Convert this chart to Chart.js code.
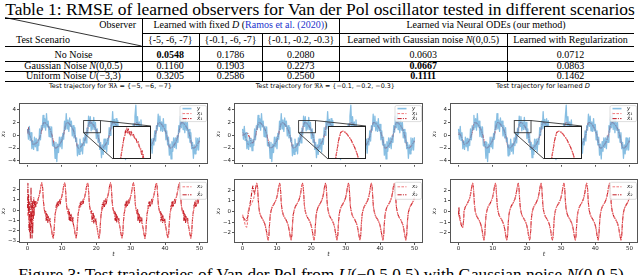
<!DOCTYPE html>
<html><head><meta charset="utf-8">
<script src="https://cdn.jsdelivr.net/npm/chart.js@4.4.0/dist/chart.umd.min.js"></script>
<style>
html,body{margin:0;padding:0;width:640px;height:275px;overflow:hidden;background:#fff;}
body{position:relative;}
.t{position:absolute;white-space:nowrap;line-height:1;color:#000;}
.serif{font-family:"Liberation Serif","Times New Roman",serif;}
.sans{font-family:"DejaVu Sans",sans-serif;}
.c{transform:translate(-50%,-50%);}
.r{transform:translate(-100%,-50%);}
.l{transform:translate(0,-50%);}
.hl{position:absolute;height:0;border-top:0.8px solid #000;}
.vl{position:absolute;width:0;border-left:0.8px solid #000;}
canvas{position:absolute;}
</style></head><body>
<script>
// ---------------- DATA ----------------
// table
const tableTitle = "Table 1: RMSE of learned observers for Van der Pol oscillator tested in different scenarios";
const scenarios = ["No Noise", "Gaussian Noise <i>N</i>(0,0.5)", "Uniform Noise <i>U</i>(\u22123,3)"];
const colHeads = ["{-5, -6, -7}", "{-0.1, -6, -7}", "{-0.1, -0.2, -0.3}", "Learned with Gaussian noise <i>N</i>(0,0.5)", "Learned with Regularization"];
const rmseFixedA = [0.0548, 0.1160, 0.3205];
const rmseFixedB = [0.1786, 0.1903, 0.2586];
const rmseFixedC = [0.2080, 0.2273, 0.2560];
const rmseGauss  = [0.0603, 0.0667, 0.1111];
const rmseReg    = [0.0712, 0.0863, 0.1462];

// trajectory knots (time)
const tKnots = [0,0.25,0.5,0.75,1.0,1.2,1.4,1.5,
1.6,1.85,2.1,2.6,3.1,3.35,3.6,3.85,4.13,4.35,4.6,4.75,
4.9,5.15,5.4,5.9,6.4,6.65,6.9,7.15,7.43,7.65,7.9,8.05,
8.24,8.49,8.74,9.24,9.74,9.99,10.24,10.49,10.77,10.99,11.24,11.39,
11.58,11.83,12.08,12.58,13.08,13.33,13.58,13.83,14.11,14.33,14.58,14.73,
14.92,15.17,15.42,15.92,16.42,16.67,16.92,17.17,17.45,17.67,17.92,18.07,
18.26,18.51,18.76,19.26,19.76,20.01,20.26,20.51,20.79,21.01,21.26,21.41,
21.6,21.85,22.1,22.6,23.1,23.35,23.6,23.85,24.13,24.35,24.6,24.75,
24.94,25.19,25.44,25.94,26.44,26.69,26.94,27.19,27.47,27.69,27.94,28.09,
28.28,28.53,28.78,29.28,29.78,30.03,30.28,30.53,30.81,31.03,31.28,31.43,
31.62,31.87,32.12,32.62,33.12,33.37,33.62,33.87,34.15,34.37,34.62,34.77,
34.96,35.21,35.46,35.96,36.46,36.71,36.96,37.21,37.49,37.71,37.96,38.11,
38.3,38.55,38.8,39.3,39.8,40.05,40.3,40.55,40.83,41.05,41.3,41.45,
41.64,41.89,42.14,42.64,43.14,43.39,43.64,43.89,44.17,44.39,44.64,44.79,
44.98,45.23,45.48,45.98,46.48,46.73,46.98,47.23,47.51,47.73,47.98,48.13,
48.32,48.57,48.82,49.32,49.82,50];
// true state x1
const x1True = [0.45,0.33,0.12,-0.17,-0.52,-0.82,-1.13,-1.3,
-1.45,-1.42,-1.36,-1.18,-0.85,-0.6,-0.25,0.2,0.87,1.48,1.91,1.98,
2,1.94,1.83,1.51,1.05,0.75,0.36,-0.15,-0.87,-1.48,-1.91,-1.98,
-2,-1.94,-1.83,-1.51,-1.05,-0.75,-0.36,0.15,0.87,1.48,1.91,1.98,
2,1.94,1.83,1.51,1.05,0.75,0.36,-0.15,-0.87,-1.48,-1.91,-1.98,
-2,-1.94,-1.83,-1.51,-1.05,-0.75,-0.36,0.15,0.87,1.48,1.91,1.98,
2,1.94,1.83,1.51,1.05,0.75,0.36,-0.15,-0.87,-1.48,-1.91,-1.98,
-2,-1.94,-1.83,-1.51,-1.05,-0.75,-0.36,0.15,0.87,1.48,1.91,1.98,
2,1.94,1.83,1.51,1.05,0.75,0.36,-0.15,-0.87,-1.48,-1.91,-1.98,
-2,-1.94,-1.83,-1.51,-1.05,-0.75,-0.36,0.15,0.87,1.48,1.91,1.98,
2,1.94,1.83,1.51,1.05,0.75,0.36,-0.15,-0.87,-1.48,-1.91,-1.98,
-2,-1.94,-1.83,-1.51,-1.05,-0.75,-0.36,0.15,0.87,1.48,1.91,1.98,
2,1.94,1.83,1.51,1.05,0.75,0.36,-0.15,-0.87,-1.48,-1.91,-1.98,
-2,-1.94,-1.83,-1.51,-1.05,-0.75,-0.36,0.15,0.87,1.48,1.91,1.98,
2,1.94,1.83,1.51,1.05,0.75,0.36,-0.15,-0.87,-1.48,-1.91,-1.98,
-2,-1.94,-1.83,-1.51,-1.05,-0.84];
// true state x2
const x2True = [-0.3,-0.62,-0.95,-1.25,-1.42,-1.48,-1.15,-0.7,
0,0.31,0.5,0.76,1.1,1.38,1.78,2.31,2.65,2.28,0.9,0.35,
0,-0.31,-0.5,-0.76,-1.1,-1.38,-1.78,-2.31,-2.68,-2.28,-0.9,-0.35,
0,0.31,0.5,0.76,1.1,1.38,1.78,2.31,2.65,2.28,0.9,0.35,
0,-0.31,-0.5,-0.76,-1.1,-1.38,-1.78,-2.31,-2.68,-2.28,-0.9,-0.35,
0,0.31,0.5,0.76,1.1,1.38,1.78,2.31,2.65,2.28,0.9,0.35,
0,-0.31,-0.5,-0.76,-1.1,-1.38,-1.78,-2.31,-2.68,-2.28,-0.9,-0.35,
0,0.31,0.5,0.76,1.1,1.38,1.78,2.31,2.65,2.28,0.9,0.35,
0,-0.31,-0.5,-0.76,-1.1,-1.38,-1.78,-2.31,-2.68,-2.28,-0.9,-0.35,
0,0.31,0.5,0.76,1.1,1.38,1.78,2.31,2.65,2.28,0.9,0.35,
0,-0.31,-0.5,-0.76,-1.1,-1.38,-1.78,-2.31,-2.68,-2.28,-0.9,-0.35,
0,0.31,0.5,0.76,1.1,1.38,1.78,2.31,2.65,2.28,0.9,0.35,
0,-0.31,-0.5,-0.76,-1.1,-1.38,-1.78,-2.31,-2.68,-2.28,-0.9,-0.35,
0,0.31,0.5,0.76,1.1,1.38,1.78,2.31,2.65,2.28,0.9,0.35,
0,-0.31,-0.5,-0.76,-1.1,-1.38,-1.78,-2.31,-2.68,-2.28,-0.9,-0.35,
0,0.31,0.5,0.76,1.1,1.3];
// noisy measurement y, sampled every 0.25 from t = 0
const yStart = 0, yStep = 0.25;
const yMeas = [1.0,-0.6,1.4,-0.8,0.4,-2.1,-0.9,-2.2,-0.3,-1.8,
-0.5,-2.4,-0.7,-1.6,1.0,-0.7,1.5,0.9,3.1,1.2,
2.6,0.8,3.4,1.3,2.2,-0.2,1.4,-0.3,1.3,-1.6,
-1.7,-1.0,-3.6,-1.1,-4.1,-1.4,-2.7,-0.3,-1.8,-0.3,
-2.1,0.3,-0.6,2.2,0.9,3.4,1.0,2.4,0.6,2.7,
1.4,2.2,-0.1,1.5,-0.4,1.2,-1.0,-0.4,-3.2,-1.5,
-3.0,-0.6,-2.5,-1.3,-2.9,-0.4,-1.6,0.5,-1.2,1.1,
0.1,3.0,1.4,2.9,0.7,2.1,0.9,2.8,0.9,2.0,
-0.5,1.0,-1.1,0.3,-2.2,-1.1,-3.5,-1.5,-3.0,-0.6,
-2.2,-0.6,-2.6,-0.5,-1.4,1.2,0.0,2.2,1.0,3.7,
1.1,2.5,0.5,2.6,1.2,2.3,-0.2,1.3,-0.6,0.7,
-2.2,-1.2,-3.1,-1.1,-3.8,-1.3,-2.6,-0.4,-1.8,-0.3,
-2.0,0.3,-0.8,1.8,0.8,3.0,4.7,1.1,2.9,0.7,
2.1,0.6,2.4,0.4,1.4,-1.0,0.1,-2.0,-1.0,-3.4,
-1.6,-3.0,-0.5,-2.3,-0.6,-2.8,-0.5,-1.5,0.7,-0.9,
1.5,0.8,3.3,1.4,3.0,0.7,2.1,0.6,2.6,0.7,
1.7,-0.7,0.7,-1.5,-0.3,-3.1,-1.4,-3.7,-1.0,-2.5,
-0.4,-1.9,-0.4,-2.1,-0.1,-1.1,1.5,0.5,3.0,1.2,
3.6,0.9,2.5,0.4,2.4,0.8,2.0,-0.4,0.9,-1.1,
0.4,-2.1,-1.1,-3.6,-1.5,-2.9,-0.4,-2.3,-0.5,-2.3,
-0.3];

// observer estimates, left panel (Re lambda = {-5,-6,-7})
const xh1LeftEarlyT = [0,0.15,0.3,0.5,0.75];
const xh1LeftEarlyV = [1.0,0.2,1.2,0.15,-0.2];
const xh1LeftZoomT = [17.0,17.2,17.35,17.5,17.6,17.7,17.8,17.9,18.0,18.1,18.2,18.3,18.4,18.5,18.6,18.7,18.8,18.95,19.1,19.25,19.4,19.55,19.7,19.85,20.0,20.05,20.15,20.2,20.3];
const xh1LeftZoomV = [-0.2,0.3,0.6,1.05,1.3,1.6,1.72,2.0,1.9,2.12,1.95,2.08,1.88,2.02,1.8,1.93,1.74,1.8,1.55,1.62,1.33,1.38,1.1,1.05,0.62,0.9,0.45,0.68,0.2];
const xh2LeftT = [0,0.1,0.2,0.3,0.4,0.5,0.6,0.7,0.8,0.9,1.0,1.1,1.2,1.3,1.4,1.5,1.6,1.7,1.8,1.9,2.0,2.1,2.25,2.4,2.6,2.8,3.1,3.35,3.6,3.85,4.13,4.35,4.6,4.75,
4.9,5.15,5.3,5.4,5.5,5.65,5.75,5.9,6.0,6.15,6.4,6.5,6.65,6.9,7.15,7.43,7.65,7.9,8.05,
8.24,8.35,8.49,8.6,8.74,8.9,9.0,9.24,9.4,9.5,9.74,9.99,10.24,10.49,10.77,10.99,11.24,11.39,
11.58,11.83,11.98,12.08,12.18,12.33,12.43,12.58,12.68,12.83,13.08,13.18,13.33,13.58,13.83,14.11,14.33,14.58,14.73,
14.92,15.03,15.17,15.28,15.42,15.58,15.68,15.92,16.08,16.18,16.42,16.67,16.92,17.17,17.45,17.67,17.92,18.07,
18.26,18.51,18.66,18.76,18.86,19.01,19.11,19.26,19.36,19.51,19.76,19.86,20.01,20.26,20.51,20.79,21.01,21.26,21.41,
21.6,21.71,21.85,21.96,22.1,22.26,22.36,22.6,22.76,22.86,23.1,23.35,23.6,23.85,24.13,24.35,24.6,24.75,
24.94,25.19,25.34,25.44,25.54,25.69,25.79,25.94,26.04,26.19,26.44,26.54,26.69,26.94,27.19,27.47,27.69,27.94,28.09,
28.28,28.39,28.53,28.64,28.78,28.94,29.04,29.28,29.44,29.54,29.78,30.03,30.28,30.53,30.81,31.03,31.28,31.43,
31.62,31.87,32.02,32.12,32.22,32.37,32.47,32.62,32.72,32.87,33.12,33.22,33.37,33.62,33.87,34.15,34.37,34.62,34.77,
34.96,35.07,35.21,35.32,35.46,35.62,35.72,35.96,36.12,36.22,36.46,36.71,36.96,37.21,37.49,37.71,37.96,38.11,
38.3,38.55,38.7,38.8,38.9,39.05,39.15,39.3,39.4,39.55,39.8,39.9,40.05,40.3,40.55,40.83,41.05,41.3,41.45,
41.64,41.75,41.89,42.0,42.14,42.3,42.4,42.64,42.8,42.9,43.14,43.39,43.64,43.89,44.17,44.39,44.64,44.79,
44.98,45.23,45.38,45.48,45.58,45.73,45.83,45.98,46.08,46.23,46.48,46.58,46.73,46.98,47.23,47.51,47.73,47.98,48.13,
48.32,48.43,48.57,48.68,48.82,48.98,49.08,49.32,49.48,49.58,49.82,50];
const xh2LeftV = [0.2,2.6,-0.5,1.5,-1.9,0.8,-2.1,-0.4,-2.8,-0.6,2.2,-1.6,-0.2,-2.7,0.9,-2.2,0.3,-0.8,1.2,-0.5,0.9,0.2,0.9,0.3,0.8,0.6,1.1,1.38,1.78,2.31,2.65,2.28,0.9,0.35,
0,-0.31,-0.1,-1.0,-0.3,-0.9,-0.45,-1.2,-0.6,-1.0,-1.1,-0.8,-1.38,-1.78,-2.31,-2.72,-2.28,-0.9,-0.35,
0,0.5,0.2,0.8,0.35,0.9,0.4,0.76,1.05,0.6,1.1,1.38,1.78,2.31,2.65,2.28,0.9,0.35,
0,-0.35,0.1,-0.9,-0.2,-1.0,-0.5,-1.1,-0.4,-0.9,-1.2,-0.7,-1.38,-1.78,-2.31,-2.7,-2.28,-0.9,-0.35,
0,0.4,0.25,0.7,0.3,0.85,0.45,0.76,1.0,0.65,1.1,1.38,1.78,2.31,2.66,2.28,0.9,0.35,
0,-0.3,-0.05,-1.1,-0.35,-0.8,-0.3,-1.25,-0.55,-1.05,-1.1,-0.75,-1.38,-1.78,-2.31,-2.73,-2.28,-0.9,-0.35,
0,0.55,0.2,0.75,0.4,0.95,0.35,0.76,1.1,0.55,1.1,1.38,1.78,2.31,2.66,2.28,0.9,0.35,
0,-0.3,-0.1,-0.95,-0.25,-1.0,-0.4,-1.15,-0.5,-0.95,-1.1,-0.8,-1.38,-1.78,-2.31,-2.7,-2.28,-0.9,-0.35,
0,0.6,0.15,0.85,0.3,0.9,0.45,0.76,1.1,0.6,1.1,1.38,1.78,2.31,2.65,2.28,0.9,0.35,
0,-0.35,0.05,-1.0,-0.3,-0.85,-0.35,-1.2,-0.6,-1.0,-1.1,-0.75,-1.38,-1.78,-2.31,-2.74,-2.28,-0.9,-0.35,
0,0.45,0.2,0.8,0.35,0.9,0.4,0.76,1.05,0.6,1.1,1.38,1.78,2.31,2.65,2.28,0.9,0.35,
0,-0.3,-0.1,-1.05,-0.3,-0.9,-0.45,-1.2,-0.5,-1.0,-1.1,-0.8,-1.38,-1.78,-2.31,-2.72,-2.28,-0.9,-0.35,
0,0.5,0.2,0.8,0.3,0.9,0.4,0.76,1.05,0.6,1.1,1.38,1.78,2.31,2.66,2.28,0.9,0.35,
0,-0.3,-0.05,-1.0,-0.3,-0.95,-0.4,-1.2,-0.55,-1.0,-1.1,-0.8,-1.38,-1.78,-2.31,-2.72,-2.28,-0.9,-0.35,
0,0.5,0.2,0.8,0.35,0.9,0.4,0.76,1.05,0.6,1.1,1.3];

// middle panel (Re lambda = {-0.1,-0.2,-0.3}) transient
const xh1MidEarlyT = [0,0.5,1.0,1.5,2.0,2.5,3.0,3.5,3.85,4.13,4.35,4.6,4.75,4.9];
const xh1MidEarlyV = [0.0,0.1,0.3,0.3,-0.3,-1.0,-1.2,-0.6,0.1,0.85,1.45,1.9,1.98,2.0];
const xh2MidEarlyT = [0,0.5,1.0,1.5,2.0,2.5,2.8,3.0,3.2,3.5,3.85,4.13,4.35,4.6,4.75,4.9];
const xh2MidEarlyV = [-0.5,-0.7,-0.9,-0.5,0.4,1.4,2.1,2.4,2.0,1.7,2.3,2.65,2.28,0.9,0.35,0];
// right panel (learned D) transient
const xh1RightEarlyT = [0,0.25,0.5,0.75,1.0];
const xh1RightEarlyV = [0.1,0.25,0.1,-0.17,-0.52];
const xh2RightEarlyT = [0,0.1,0.25,0.5,0.75,1.0,1.2];
const xh2RightEarlyV = [-0.3,0.4,-0.3,-0.8,-1.2,-1.45,-1.5];

// axes ticks
const xTicks = [0,10,20,30,40,50];
const yTicksTop = [-4,-2,0,2,4];
const yTicksBotLeft = [-3,-2,-1,0,1,2];
const yTicksBot = [-2,-1,0,1,2];
const panelTitles = ["Test trajectory for \u211C\u03BB = {\u22125, \u22126, \u22127}",
  "Test trajectory for \u211C\u03BB = {\u22120.1, \u22120.2, \u22120.3}",
  "Test trajectory for learned <i>D</i>"];
const captionText = "Figure 3: Test trajectories of Van der Pol from <i>U</i>(\u22120.5,0.5) with Gaussian noise <i>N</i>(0,0.5)";

// ---------------- HELPERS ----------------
function pts(T,V){return T.map((t,i)=>({x:t,y:V[i]}));}
function merge(baseT, baseV, repl){
  let base = pts(baseT, baseV);
  repl.forEach(([T])=>{const a=T[0], b=T[T.length-1]; base = base.filter(p=>p.x<a||p.x>b);});
  repl.forEach(([T,V])=>{base = base.concat(pts(T,V));});
  return base.sort((p,q)=>p.x-q.x);
}
function addText(html, cls, x, y, fitW, size){
  const d=document.createElement('div'); d.className='t '+cls; d.innerHTML=html;
  d.style.left=x+'px'; d.style.top=y+'px';
  document.body.appendChild(d);
  if(fitW){ d.style.fontSize='20px'; const w=d.getBoundingClientRect().width; d.style.fontSize=(20*fitW/w)+'px'; }
  else d.style.fontSize=size+'px';
  return d;
}
function hl(x1,x2,y){const d=document.createElement('div');d.className='hl';d.style.left=x1+'px';d.style.width=(x2-x1)+'px';d.style.top=y+'px';document.body.appendChild(d);}
function vl(x,y1,y2){const d=document.createElement('div');d.className='vl';d.style.left=x+'px';d.style.top=y1+'px';d.style.height=(y2-y1)+'px';document.body.appendChild(d);}
const fmtTick = v => (v<0?'\u2212'+Math.abs(v):String(v));

// ---------------- TABLE ----------------
addText(tableTitle,'serif c',320,9.5,630);
hl(5,634,17.5); hl(141.5,634,32.8); hl(5,634,46); hl(5,634,60.6); hl(5,634,70.6); hl(5,634,81);
[141.5,339.3].forEach(x=>vl(x,17.5,81));
[198.8,262.3,507].forEach(x=>vl(x,32.8,81));
(function(){const s=document.createElementNS('http://www.w3.org/2000/svg','svg');
 s.setAttribute('width','640');s.setAttribute('height','90');s.style.cssText='position:absolute;left:0;top:0;';
 s.innerHTML='<line x1="5" y1="17.5" x2="141.5" y2="46" stroke="#000" stroke-width="0.8"/>';document.body.appendChild(s);})();
const TS = 10;
addText('Observer','serif r',136,25.4,null,TS);
addText('Test Scenario','serif l',16,40.2,null,TS);
addText('Learned with fixed <i>D</i> (<span style="color:#2233cc">Ramos et al. (2020)</span>)','serif c',240.4,25.4,null,TS);
addText('Learned via Neural ODEs (our method)','serif c',486,25.4,null,TS);
const colCenters = [170.2,230.5,300.8,423.2,570.5];
colHeads.forEach((h,i)=>addText(h,'serif c',colCenters[i],40.2,null,TS));
const rowY = [55.3,65.6,75.8];
const cols = [rmseFixedA,rmseFixedB,rmseFixedC,rmseGauss,rmseReg];
scenarios.forEach((s,r)=>{
  addText(s,'serif c',73.5,rowY[r],null,TS);
  const vals = cols.map(c=>c[r]); const best=Math.min(...vals);
  vals.forEach((v,ci)=>{const txt=v.toFixed(4); addText(v===best?'<b>'+txt+'</b>':txt,'serif c',colCenters[ci],rowY[r],null,TS);});
});

// ---------------- CHARTS ----------------
const BLUE='rgba(95,168,216,0.75)', XT='#f07a7c', XH='#c21d26';
const DASH=[2.6,1.3], DASHDOT=[4.2,1.2,1,1.2];

const framePlugin={id:'frame',afterDraw(c,a,o){const {ctx,chartArea:r}=c;ctx.save();ctx.strokeStyle=o.color||'#555';ctx.lineWidth=o.width||1;ctx.setLineDash([]);
  ctx.strokeRect(Math.round(r.left)+0.5,Math.round(r.top)+0.5,Math.round(r.right-r.left)-1,Math.round(r.bottom-r.top)-1);ctx.restore();}};
const markPlugin={id:'markInset',afterDatasetsDraw(c,a,o){if(!o||!o.box)return;const {ctx,scales:{x,y}}=c;
  const X0=x.getPixelForValue(o.box[0]),X1=x.getPixelForValue(o.box[1]),Y0=y.getPixelForValue(o.box[2]),Y1=y.getPixelForValue(o.box[3]);
  ctx.save();ctx.setLineDash([]);ctx.strokeStyle='#333';ctx.lineWidth=0.9;ctx.strokeRect(X0,Y1,X1-X0,Y0-Y1);
  const il=o.inset.l-o.origin.l, it=o.inset.t-o.origin.t;
  ctx.beginPath();ctx.moveTo(X1,Y1);ctx.lineTo(il+o.inset.w,it);ctx.moveTo(X0,Y0);ctx.lineTo(il,it+o.inset.h);ctx.stroke();ctx.restore();}};
const legendPlugin={id:'miniLegend',afterDatasetsDraw(c,a,o){if(!o||!o.items)return;const {ctx,chartArea:r}=c;
  const n=o.items.length,bw=26.5,bx=r.right-bw-1.5,by=r.top+o.top,bh=n*o.gap+1;
  ctx.save();ctx.setLineDash([]);ctx.fillStyle='rgba(255,255,255,0.85)';ctx.strokeStyle='#d4d4d4';ctx.lineWidth=0.8;
  ctx.beginPath();ctx.roundRect(bx,by,bw,bh,1.5);ctx.fill();ctx.stroke();
  o.items.forEach((it,i)=>{const cy=by+0.5+o.gap*(i+0.5);ctx.beginPath();ctx.setLineDash(it.dash||[]);ctx.strokeStyle=it.color;ctx.lineWidth=it.w;
    ctx.moveTo(bx+2.5,cy);ctx.lineTo(bx+11.5,cy);ctx.stroke();ctx.setLineDash([]);
    ctx.fillStyle='#222';ctx.font='italic 5.5px "DejaVu Sans"';ctx.textBaseline='middle';ctx.fillText(it.label,bx+17,cy);});
  ctx.restore();}};

const YW=19, PT=2, PR=2;
function mkMain(g, cfg){
  const cv=document.createElement('canvas');
  const W=YW+g.w+PR, H=PT+g.h+g.xh;
  cv.width=W;cv.height=H;cv.style.left=(g.l-YW)+'px';cv.style.top=(g.t-PT)+'px';cv.style.width=W+'px';cv.style.height=H+'px';
  document.body.appendChild(cv);
  const tickFont={family:'DejaVu Sans',size:5.5};
  return new Chart(cv,{type:'line',data:{datasets:cfg.datasets},
    options:{responsive:false,animation:false,devicePixelRatio:1,events:[],
      layout:{padding:{top:PT,right:PR,left:0,bottom:0}},
      elements:{point:{radius:0},line:{tension:0,borderJoinStyle:'round'}},
      plugins:{legend:{display:false},tooltip:{enabled:false},
        frame:{color:'#555',width:1},miniLegend:cfg.legend,markInset:cfg.mark||{}},
      scales:{
        x:{type:'linear',min:-2.5,max:52.5,afterBuildTicks:s=>{s.ticks=xTicks.map(v=>({value:v}));},afterFit:s=>{s.height=g.xh;},
          ticks:{display:cfg.showX,font:tickFont,color:'#222',padding:0,maxRotation:0,autoSkip:false},
          grid:{drawOnChartArea:false,drawTicks:true,tickLength:2,color:'#555'},border:{display:false},
          title:{display:cfg.showX,text:'t',font:{family:'DejaVu Sans',size:6,style:'italic'},color:'#222',padding:{top:0,bottom:0}}},
        y:{type:'linear',min:cfg.yMin,max:cfg.yMax,afterBuildTicks:s=>{s.ticks=cfg.yTicks.map(v=>({value:v}));},afterFit:s=>{s.width=YW;},
          ticks:{font:tickFont,color:'#222',padding:1,callback:fmtTick},
          grid:{drawOnChartArea:false,drawTicks:true,tickLength:2,color:'#555'},border:{display:false},
          title:{display:true,text:cfg.yTitle,font:{family:'DejaVu Sans',size:6,style:'italic'},color:'#222',padding:{top:0,bottom:0}}}
      }},plugins:[framePlugin,markPlugin,legendPlugin]});
}
function mkInset(g, box, datasets){
  const cv=document.createElement('canvas');cv.width=g.w;cv.height=g.h;
  cv.style.left=g.l+'px';cv.style.top=g.t+'px';cv.style.width=g.w+'px';cv.style.height=g.h+'px';cv.style.background='#fff';cv.style.zIndex=5;
  document.body.appendChild(cv);
  return new Chart(cv,{type:'line',data:{datasets},options:{responsive:false,animation:false,devicePixelRatio:1,events:[],
    layout:{padding:0},elements:{point:{radius:0},line:{tension:0}},
    plugins:{legend:{display:false},tooltip:{enabled:false},frame:{color:'#222',width:1}},
    scales:{x:{type:'linear',display:false,min:box[0],max:box[1]},y:{type:'linear',display:false,min:box[2],max:box[3]}}},plugins:[framePlugin]});
}

const yPts = yMeas.map((v,i)=>({x:yStart+i*yStep,y:v}));
const x1Pts = pts(tKnots,x1True), x2Pts = pts(tKnots,x2True);
const estimates = [
  {xh1: merge(tKnots,x1True,[[xh1LeftEarlyT,xh1LeftEarlyV],[xh1LeftZoomT,xh1LeftZoomV]]), xh2: pts(xh2LeftT,xh2LeftV), bot:[-3.19,3.0], bt:yTicksBotLeft},
  {xh1: merge(tKnots,x1True,[[xh1MidEarlyT,xh1MidEarlyV]]), xh2: merge(tKnots,x2True,[[xh2MidEarlyT,xh2MidEarlyV]]), bot:[-2.97,3.03], bt:yTicksBot},
  {xh1: merge(tKnots,x1True,[[xh1RightEarlyT,xh1RightEarlyV]]), xh2: merge(tKnots,x2True,[[xh2RightEarlyT,xh2RightEarlyV]]), bot:[-2.97,3.03], bt:yTicksBot}
];
const lefts=[19,234,450], widths=[189,189,188], centers=[110.5,325.3,543], titleW=[123,139.3,94];
const insetBox=[16.3,21.2,0.4,2.3];
const ds=(data,color,dash,w)=>({data,borderColor:color,borderDash:dash,borderWidth:w,fill:false,parsing:false,pointRadius:0});
estimates.forEach((e,k)=>{
  const L=lefts[k], W=widths[k];
  addText(panelTitles[k],'sans c',centers[k],85.5,titleW[k]);
  const ins={l:L+94,t:126,w:38,h:33};
  mkMain({l:L,t:101,w:W,h:64,xh:4},{
    datasets:[ds(yPts,BLUE,[],1.3),ds(x1Pts,XT,DASH,1.1),ds(e.xh1,XH,DASHDOT,1.1)],
    yMin:-4.6,yMax:5.0,yTicks:yTicksTop,yTitle:'x\u2081',showX:false,
    legend:{top:2.3,gap:5,items:[{label:'y',color:BLUE,w:1.6},{label:'x\u2081',color:XT,dash:DASH,w:1},{label:'x\u0302\u2081',color:XH,dash:DASHDOT,w:1}]},
    mark:{box:insetBox,inset:ins,origin:{l:L-YW,t:101-PT}}
  });
  mkInset(ins,insetBox,[ds(x1Pts,XT,DASH,1.1),ds(e.xh1,XH,DASHDOT,1.1)]);
  mkMain({l:L,t:177,w:W,h:66,xh:15},{
    datasets:[ds(x2Pts,XT,DASH,1.1),ds(e.xh2,XH,DASHDOT,1.1)],
    yMin:e.bot[0],yMax:e.bot[1],yTicks:e.bt,yTitle:'x\u2082',showX:true,
    legend:{top:3,gap:8,items:[{label:'x\u2082',color:XT,dash:DASH,w:1},{label:'x\u0302\u2082',color:XH,dash:DASHDOT,w:1}]}
  });
});
addText(captionText,'serif c',321,275,606);
</script>
</body></html>
